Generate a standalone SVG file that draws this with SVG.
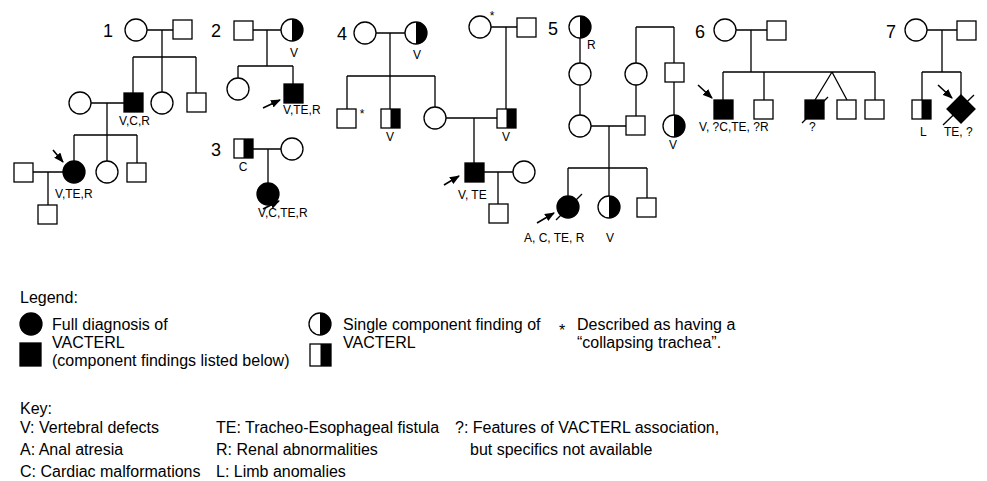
<svg xmlns="http://www.w3.org/2000/svg" width="987" height="481" viewBox="0 0 987 481">
<style>
.ln{stroke:#000;stroke-width:1.3;fill:none}
.o{fill:#fff;stroke:#000;stroke-width:1.3}
.f{fill:#000;stroke:#000;stroke-width:1.3}
.h{fill:#000}
.ar{stroke:#000;stroke-width:1.6;fill:none}
.num{font-family:"Liberation Sans",Arial,sans-serif;font-size:18px}
.lb{font-family:"Liberation Sans",Arial,sans-serif;font-size:12px}
.lg{font-family:"Liberation Sans",Arial,sans-serif;font-size:16px}
</style>
<defs>
<marker id="ah" markerUnits="userSpaceOnUse" markerWidth="10" markerHeight="8" refX="9" refY="4" orient="auto">
<path d="M0,0 L10,4 L0,8 z" fill="#000"/>
</marker>
</defs>
<g id="connectors">
<path class="ln" d="M147,30H173 M162,30V57 M133,57H196 M133,57V93 M162,57V92 M196,57V93 M91,103H124 M107,103V135 M74,135H137 M74,135V161 M107,135V161 M137,135V163 M33,172H63 M48,172V205"/>
<path class="ln" d="M253,30H281 M267,30V66 M238,66H293 M238,66V78 M293,66V84"/>
<path class="ln" d="M253,149H281 M268,149V183"/>
<path class="ln" d="M376,33H405 M390,33V76 M347,76H435 M347,76V109 M390,76V109 M435,76V107 M446,118H497 M474,118V163 M491,27H517 M506,27V109 M484,172H513 M498,172V204"/>
<path class="ln" d="M580,38V63 M580,85V115 M591,126H626 M609,126V168 M636,27H674 M636,27V63 M636,85V116 M674,27V63 M674,82V115 M568,168H647 M568,168V196 M609,168V196 M647,168V198"/>
<path class="ln" d="M736,30H767 M751,30V72 M723,72H875 M723,72V100 M764,72V100 M832,72L815,100 M832,72L847,100 M875,72V100"/>
<path class="ln" d="M927,30H957 M942,30V72 M922,72H961 M922,72V100 M961,72V95"/>
<line class="ar" x1="53" y1="150" x2="63" y2="162" marker-end="url(#ah)"/>
<line class="ar" x1="263" y1="108" x2="280" y2="100" marker-end="url(#ah)"/>
<line class="ar" x1="263" y1="209" x2="279" y2="201" marker-end="url(#ah)"/>
<line class="ar" x1="444" y1="185" x2="459" y2="176" marker-end="url(#ah)"/>
<line class="ar" x1="537" y1="223" x2="554" y2="213" marker-end="url(#ah)"/>
<line class="ar" x1="698" y1="85" x2="712" y2="98" marker-end="url(#ah)"/>
<line class="ar" x1="938" y1="85" x2="952" y2="98" marker-end="url(#ah)"/>
</g>
<g id="ped1">
<text class="num" x="103" y="37">1</text>
<circle class="o" cx="136" cy="30" r="11"/>
<rect class="o" x="173" y="20" width="19" height="19"/>
<rect class="f" x="124" y="93" width="19" height="19"/>
<circle class="o" cx="162" cy="103" r="11"/>
<rect class="o" x="187" y="93" width="19" height="19"/>
<circle class="o" cx="80" cy="103" r="11"/>
<circle class="f" cx="74" cy="172" r="11"/>
<circle class="o" cx="107" cy="172" r="11"/>
<rect class="o" x="127" y="163" width="19" height="19"/>
<rect class="o" x="14" y="163" width="19" height="19"/>
<rect class="o" x="38" y="205" width="19" height="19"/>
<text class="lb" x="119" y="125">V,C,R</text>
<text class="lb" x="55" y="198">V,TE,R</text>
</g>
<g id="ped2">
<text class="num" x="211" y="37">2</text>
<rect class="o" x="234" y="21" width="19" height="19"/>
<circle class="o" cx="292" cy="30" r="11"/>
<path class="h" d="M292,19A11,11 0 0 1 292,41Z"/>
<text class="lb" x="294" y="57" text-anchor="middle">V</text>
<circle class="o" cx="238" cy="89" r="11"/>
<rect class="f" x="284" y="84" width="19" height="19"/>
<text class="lb" x="283" y="114">V,TE,R</text>
</g>
<g id="ped3">
<text class="num" x="211" y="156">3</text>
<rect class="o" x="234" y="139" width="19" height="19"/>
<rect class="h" x="243.5" y="139" width="9.5" height="19"/>
<text class="lb" x="243" y="171" text-anchor="middle">C</text>
<circle class="o" cx="292" cy="149" r="11"/>
<circle class="f" cx="268" cy="194" r="11"/>
<text class="lb" x="258" y="217">V,C,TE,R</text>
</g>
<g id="ped4">
<text class="num" x="337" y="40">4</text>
<circle class="o" cx="365" cy="33" r="11"/>
<circle class="o" cx="416" cy="33" r="11"/>
<path class="h" d="M416,22A11,11 0 0 1 416,44Z"/>
<text class="lb" x="417" y="59" text-anchor="middle">V</text>
<rect class="o" x="337" y="109" width="19" height="19"/>
<text class="lb" x="362" y="118" text-anchor="middle">*</text>
<rect class="o" x="381" y="109" width="19" height="19"/>
<rect class="h" x="390.5" y="109" width="9.5" height="19"/>
<text class="lb" x="390" y="141" text-anchor="middle">V</text>
<circle class="o" cx="435" cy="118" r="11"/>
<circle class="o" cx="480" cy="27" r="11"/>
<text class="lb" x="492" y="20" text-anchor="middle">*</text>
<rect class="o" x="517" y="18" width="19" height="19"/>
<rect class="o" x="497" y="109" width="19" height="19"/>
<rect class="h" x="506.5" y="109" width="9.5" height="19"/>
<text class="lb" x="506" y="141" text-anchor="middle">V</text>
<rect class="f" x="465" y="163" width="19" height="19"/>
<circle class="o" cx="524" cy="172" r="11"/>
<rect class="o" x="489" y="204" width="19" height="19"/>
<text class="lb" x="458" y="199">V, TE</text>
</g>
<g id="ped5">
<text class="num" x="548" y="35">5</text>
<circle class="o" cx="580" cy="27" r="11"/>
<path class="h" d="M580,16A11,11 0 0 1 580,38Z"/>
<text class="lb" x="587" y="49">R</text>
<circle class="o" cx="580" cy="74" r="11"/>
<circle class="o" cx="580" cy="126" r="11"/>
<rect class="o" x="626" y="116" width="19" height="19"/>
<circle class="o" cx="636" cy="74" r="11"/>
<rect class="o" x="665" y="63" width="19" height="19"/>
<circle class="o" cx="674" cy="126" r="11"/>
<path class="h" d="M674,115A11,11 0 0 1 674,137Z"/>
<text class="lb" x="673" y="149" text-anchor="middle">V</text>
<circle class="f" cx="568" cy="207" r="11"/>
<line class="ln" x1="556" y1="220" x2="582" y2="194"/>
<circle class="o" cx="609" cy="207" r="11"/>
<path class="h" d="M609,196A11,11 0 0 1 609,218Z"/>
<rect class="o" x="637" y="198" width="19" height="19"/>
<text class="lb" x="524" y="242">A, C, TE, R</text>
<text class="lb" x="606" y="242">V</text>
</g>
<g id="ped6">
<text class="num" x="695" y="38">6</text>
<circle class="o" cx="725" cy="30" r="11"/>
<rect class="o" x="767" y="21" width="19" height="19"/>
<rect class="f" x="714" y="100" width="19" height="19"/>
<rect class="o" x="754" y="100" width="19" height="19"/>
<rect class="f" x="805" y="100" width="19" height="19"/>
<line class="ln" x1="802" y1="123" x2="828" y2="97"/>
<rect class="o" x="837" y="100" width="19" height="19"/>
<rect class="o" x="865" y="100" width="19" height="19"/>
<text class="lb" x="699" y="131">V, ?C,TE, ?R</text>
<text class="lb" x="809" y="131">?</text>
</g>
<g id="ped7">
<text class="num" x="886" y="38">7</text>
<circle class="o" cx="916" cy="30" r="11"/>
<rect class="o" x="957" y="21" width="19" height="19"/>
<rect class="o" x="912" y="100" width="19" height="19"/>
<rect class="h" x="921.5" y="100" width="9.5" height="19"/>
<polygon class="f" points="961,95 975,109 961,123 947,109"/>
<line class="ln" x1="943" y1="125" x2="974" y2="95"/>
<text class="lb" x="920" y="136">L</text>
<text class="lb" x="944" y="136">TE, ?</text>
</g>
<g id="legend">
<text class="lg" x="20" y="303">Legend:</text>
<circle class="f" cx="31" cy="324" r="11"/>
<rect class="f" x="20" y="343" width="21" height="23"/>
<text class="lg" x="52" y="330">Full diagnosis of</text>
<text class="lg" x="52" y="348">VACTERL</text>
<text class="lg" x="52" y="366">(component findings listed below)</text>
<circle class="o" cx="320" cy="324" r="11"/>
<path class="h" d="M320,313A11,11 0 0 1 320,335Z"/>
<rect class="o" x="310" y="344" width="21" height="22"/>
<rect class="h" x="320.5" y="344" width="10.5" height="22"/>
<text class="lg" x="343" y="330">Single component finding of</text>
<text class="lg" x="343" y="348">VACTERL</text>
<text class="lg" x="559" y="336">*</text>
<text class="lg" x="577" y="330">Described as having a</text>
<text class="lg" x="577" y="348">“collapsing trachea”.</text>
</g>
<g id="key">
<text class="lg" x="20" y="414">Key:</text>
<text class="lg" x="20" y="433">V: Vertebral defects</text>
<text class="lg" x="20" y="455">A: Anal atresia</text>
<text class="lg" x="20" y="477">C: Cardiac malformations</text>
<text class="lg" x="216" y="433">TE: Tracheo-Esophageal fistula</text>
<text class="lg" x="216" y="455">R: Renal abnormalities</text>
<text class="lg" x="216" y="477">L: Limb anomalies</text>
<text class="lg" x="455" y="433">?: Features of VACTERL association,</text>
<text class="lg" x="470" y="455">but specifics not available</text>
</g>
</svg>
